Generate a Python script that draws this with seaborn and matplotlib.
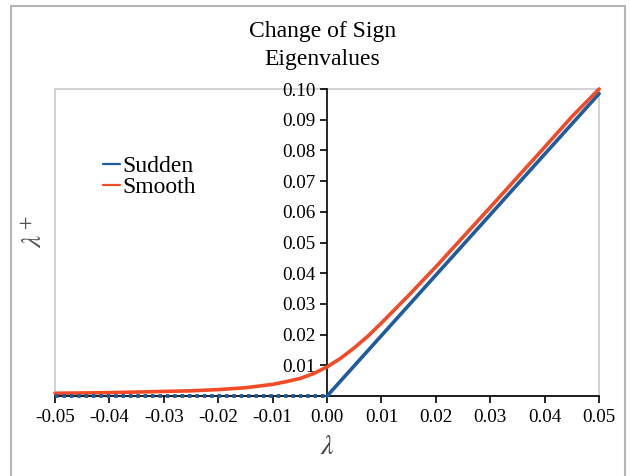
import matplotlib
matplotlib.use("Agg")
import matplotlib.pyplot as plt
from matplotlib.patches import Rectangle
import seaborn as sns

# eigenvalue curves
lam_smooth = [-0.05, -0.045, -0.04, -0.035, -0.03, -0.025, -0.02, -0.015, -0.01,
              -0.0075, -0.005, -0.0025, 0.0, 0.0025, 0.005, 0.0075, 0.01, 0.015,
              0.02, 0.025, 0.03, 0.035, 0.04, 0.045, 0.05]
smooth = [0.0009, 0.0010, 0.0011, 0.0013, 0.0015, 0.0017, 0.0021, 0.0027, 0.0038,
          0.0047, 0.0057, 0.0073, 0.0095, 0.0123, 0.0157, 0.0195, 0.0238, 0.0328,
          0.0421, 0.0518, 0.0615, 0.0713, 0.0811, 0.0910, 0.1000]
lam_sudden_neg = [-0.05, 0.0]
sudden_neg = [0.0, 0.0]
lam_sudden_pos = [0.0, 0.05]
sudden_pos = [0.0, 0.0985]

x_ticks = [-0.05, -0.04, -0.03, -0.02, -0.01, 0.0, 0.01, 0.02, 0.03, 0.04, 0.05]
y_ticks = [0.01, 0.02, 0.03, 0.04, 0.05, 0.06, 0.07, 0.08, 0.09, 0.10]

blue = "#1f5c9e"
red = "#f24b28"

sns.set_style("white")
plt.rcParams["font.family"] = ["Liberation Serif", "DejaVu Serif"]
plt.rcParams["mathtext.fontset"] = "stix"
plt.rcParams["axes.unicode_minus"] = False
plt.rcParams["text.color"] = "black"

fig = plt.figure(figsize=(6.3, 4.76), dpi=100)
ax = fig.add_axes([0.0873, 0.168, 0.8637, 0.645])

sns.lineplot(x=lam_sudden_neg, y=sudden_neg, ax=ax, color=blue, lw=2.8,
             linestyle=(0, (0.9, 1.0)), clip_on=False, zorder=5)
sns.lineplot(x=lam_sudden_pos, y=sudden_pos, ax=ax, color=blue, lw=2.6,
             label="Sudden", clip_on=False, zorder=3)
sns.lineplot(x=lam_smooth, y=smooth, ax=ax, color=red, lw=2.6, sort=True,
             label="Smooth", clip_on=False, zorder=4)

ax.set_xlim(-0.05, 0.05)
ax.set_ylim(0, 0.1)

# light frame around plot area
ax.add_patch(Rectangle((0, 0), 1, 1, transform=ax.transAxes, fill=False,
                       edgecolor="#cccccc", lw=1.2, clip_on=False, zorder=0))
for s in ["top", "right"]:
    ax.spines[s].set_visible(False)
ax.spines["left"].set_position(("data", 0))
ax.spines["left"].set_color("black")
ax.spines["bottom"].set_color("black")
ax.spines["left"].set_linewidth(1.2)
ax.spines["bottom"].set_linewidth(1.2)
ax.spines["left"].set_zorder(2)

ax.set_xticks(x_ticks)
ax.set_xticklabels([f"{v:.2f}" for v in x_ticks])
ax.set_yticks(y_ticks)
ax.set_yticklabels([f"{v:.2f}" for v in y_ticks])
ax.tick_params(axis="both", direction="out", length=5, width=1.2, color="black",
               labelsize=13.8, labelcolor="black", pad=3)
ax.tick_params(axis="x", pad=4)
ax.xaxis.set_ticks_position("bottom")
ax.yaxis.set_ticks_position("left")

ax.set_xlabel(r"$\lambda$", fontsize=20, color="#444444", labelpad=7)
ax.set_ylabel("")
fig.text(0.056, 0.513, r"$\lambda^+$", rotation=90, fontsize=20, color="#555555",
         ha="center", va="center")

leg = ax.legend(loc="upper left", bbox_to_anchor=(0.07, 0.815), frameon=False,
                fontsize=17, handlelength=0.75, handletextpad=0.1,
                labelspacing=0.0, borderaxespad=0)
for h in leg.get_lines():
    h.set_linewidth(1.6)
for t in leg.get_texts():
    t.set_color("black")

fig.text(0.512, 0.933, "Change of Sign", ha="center", va="center", fontsize=17,
         color="black")
fig.text(0.512, 0.874, "Eigenvalues", ha="center", va="center", fontsize=17,
         color="black")

fig.patches.append(Rectangle((11 / 630, -0.05), 614 / 630, 1.05 - 6 / 476,
                             transform=fig.transFigure, fill=False,
                             edgecolor="#b5b5b5", lw=1.5))

fig.savefig("out.png", dpi=100)
